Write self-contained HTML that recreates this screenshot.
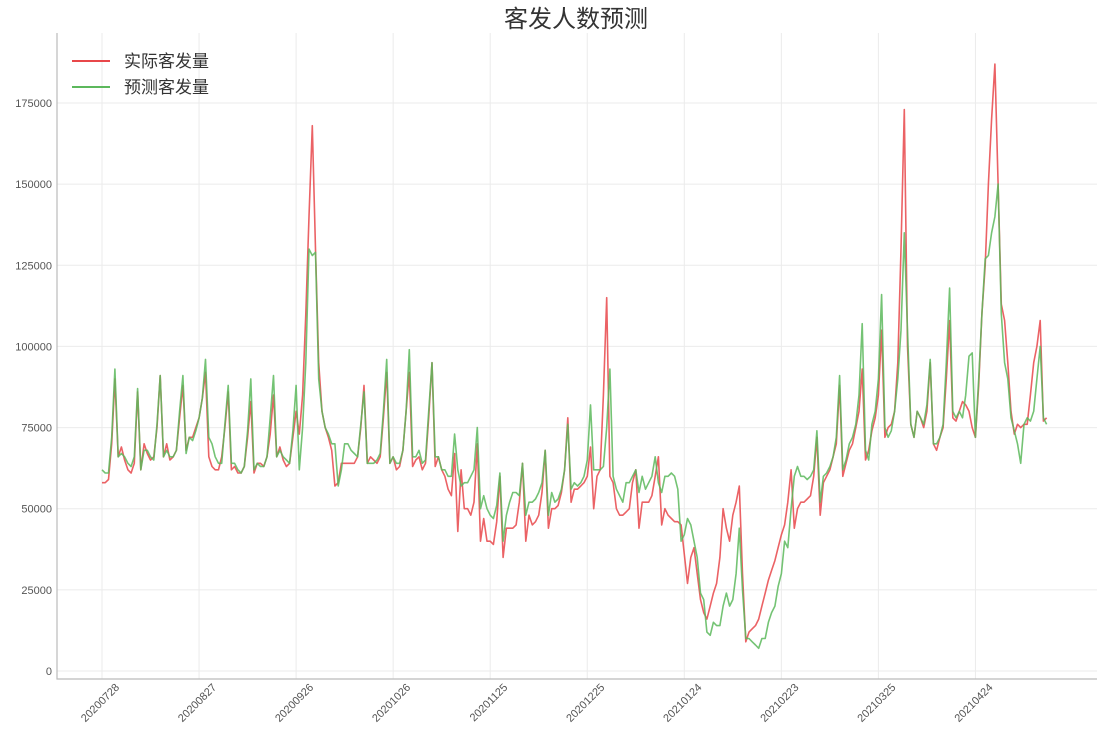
<!DOCTYPE html>
<html><head><meta charset="utf-8"><style>
body{margin:0;background:#fff;}
svg text{font-family:"Liberation Sans","Noto Sans CJK SC",sans-serif;}
</style></head><body>
<svg id="chart" width="1100" height="738" xmlns="http://www.w3.org/2000/svg">
<text x="576" y="27" text-anchor="middle" font-size="24" fill="#333">客发人数预测</text>
<g id="grid"></g><g id="axes"></g><g id="series"></g>
<g>
<line x1="72" y1="61" x2="110" y2="61" stroke="#e8474a" stroke-width="2"/>
<text x="124" y="67" font-size="17" fill="#333">实际客发量</text>
<line x1="72" y1="87" x2="110" y2="87" stroke="#5cb85c" stroke-width="2"/>
<text x="124" y="93" font-size="17" fill="#333">预测客发量</text>
</g>
</svg>
<script>
const xTickLabels=["20200728","20200827","20200926","20201026","20201125","20201225","20210124","20210223","20210325","20210424"];
const yTicks=[0,25000,50000,75000,100000,125000,150000,175000];
const actual=[58,58,59,70,90,66,69, 65,62,61,64,86,62,70, 67,65,66,75,91,66,70, 65,66,68,78,88,68,72, 72,75,78,84,92,66,63, 62,62,66,75,86,62,63, 61,61,63,72,83,61,64, 64,63,66,73,85,66,69, 65,63,64,72,80,73,85, 110,140,168,130,95,80,75, 72,68,57,58,64,64,64, 64,64,66,75,88,64,66, 65,64,66,78,92,64,66, 62,63,68,80,92,63,65, 66,62,64,78,95,63,66, 62,60,56,54,67,43,62, 50,50,48,52,70,40,47, 40,40,39,46,60,35,44, 44,44,45,52,64,40,48, 45,46,48,55,68,44,50, 50,51,55,62,78,52,56, 56,57,58,60,69,50,60, 62,85,115,60,58,50,48, 48,49,50,58,62,44,52, 52,52,54,60,66,45,50, 48,47,46,46,45,36,27, 35,38,30,22,18,16,20, 24,27,35,50,44,40,48, 52,57,30,9,12,13,14, 16,20,24,28,31,34,38, 42,45,52,62,44,50,52, 52,53,54,60,72,48,58, 60,62,66,70,88,60,64, 68,70,75,80,93,65,68, 74,78,85,105,72,75,76, 80,95,130,173,100,76,72, 80,78,75,80,95,70,68, 72,75,90,108,78,77,80, 83,82,80,75,72,88,110, 125,150,170,187,150,113,108, 95,80,73,76,75,76,76,85,95,100,108,77,78];
const predicted=[62,61,61,72,93,66,67, 66,64,63,66,87,62,68, 68,66,65,76,91,66,68, 66,66,68,80,91,67,72, 71,74,78,84,96,72,70, 66,64,64,76,88,64,64, 62,61,63,74,90,62,64, 63,63,66,78,91,66,68, 66,65,64,74,88,62,75, 95,130,128,129,90,80,75, 73,70,70,57,62,70,70, 68,67,66,76,86,64,64, 64,65,67,80,96,64,66, 64,64,68,80,99,66,66, 68,64,65,80,95,66,66, 62,62,60,60,73,62,57, 58,58,60,62,75,50,54, 50,48,47,51,61,40,48, 52,55,55,54,64,48,52, 52,53,55,58,68,48,55, 52,53,56,62,76,56,58, 57,58,60,65,82,62,62, 62,63,75,93,60,56,54, 52,58,58,60,62,55,60, 56,58,60,66,58,55,60, 60,61,60,56,40,42,47, 45,40,35,24,22,12,11, 15,14,14,20,24,20,22, 30,44,25,10,10,9,8, 7,10,10,15,18,20,26, 30,40,38,50,60,63,60, 60,59,60,62,74,52,60, 61,63,66,72,91,62,65, 70,72,76,85,107,68,65, 76,80,90,116,75,72,74, 80,90,105,135,105,76,72, 80,78,76,82,96,70,70, 72,76,95,118,80,78,80, 78,85,97,98,72,90,110, 127,128,135,140,150,110,95, 90,78,74,70,64,76,78,77,80,90,100,78,76];
const NS="http://www.w3.org/2000/svg";
const X=d=>102+d*3.235, Y=v=>671-v*(568/175000);
function mk(tag,attrs,parent){const e=document.createElementNS(NS,tag);for(const k in attrs)e.setAttribute(k,attrs[k]);parent.appendChild(e);return e;}
const grid=document.getElementById('grid'),axes=document.getElementById('axes'),series=document.getElementById('series');
yTicks.forEach(v=>{
 const l=mk('line',{x1:57,x2:1097,y1:Y(v),y2:Y(v),stroke:'#ebebeb','stroke-width':1},grid);
 
 
 const t=mk('text',{x:52,y:Y(v)+4,'text-anchor':'end','font-size':11,fill:'#555'},axes);
 t.textContent=v;
 
 
});
xTickLabels.forEach((s,i)=>{
 const x=X(i*30);
 const l=mk('line',{x1:x,x2:x,y1:33,y2:679,stroke:'#ebebeb','stroke-width':1},grid);
 
 
 const t=mk('text',{x:x+18,y:688,'text-anchor':'end','font-size':11,fill:'#555',transform:`rotate(-45 ${x+18} 688)`},axes);
 t.textContent=s;
 
 
});
const sp=mk('path',{d:'M57 33 V679 H1097',fill:'none',stroke:'#bbb','stroke-width':1.2},axes);


function line(arr,color,name){
 const d=arr.map((v,i)=>(i?'L':'M')+X(i).toFixed(1)+' '+Y(v*1000).toFixed(1)).join(' ');
 const p=mk('path',{d:d,fill:'none',stroke:color,'stroke-width':1.6,'stroke-opacity':0.85,'stroke-linejoin':'round'},series);
 
 
}
line(actual,'#e8474a','actual-line');
line(predicted,'#5cb85c','predicted-line');
</script>
</body></html>
